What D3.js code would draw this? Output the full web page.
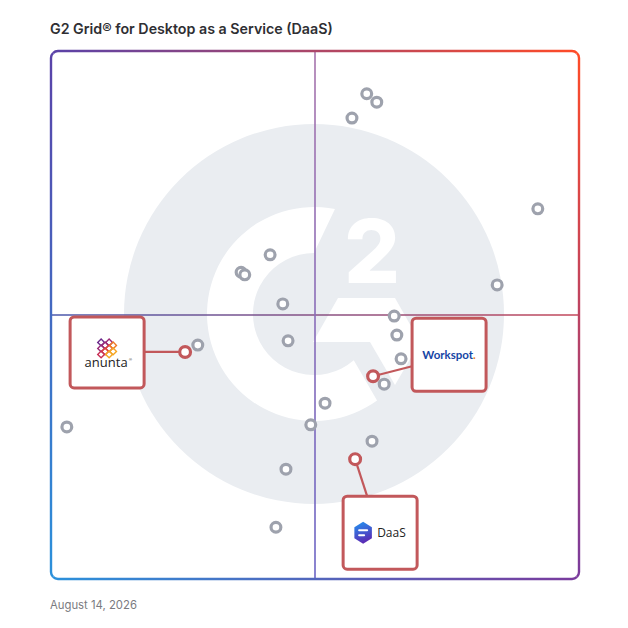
<!DOCTYPE html>
<html><head><meta charset="utf-8">
<script src="https://cdn.jsdelivr.net/npm/d3@7"></script>
<style>html,body{margin:0;padding:0;background:#fff;} svg{display:block;}</style>
</head><body>
<script>
// ---------------- DATA ----------------
const chartTitle = "G2 Grid® for Desktop as a Service (DaaS)";
const dateLabel = "August 14, 2026";
// Other products: Satisfaction (x, 0-100) and Market Presence (y, 0-100)
const otherSatisfaction = [59.8, 61.7, 57.0, 92.2, 41.5, 36.0, 36.7, 84.5, 43.9, 65.0, 65.5, 66.3, 63.1, 44.9, 27.8, 51.9, 49.2, 60.8, 44.5, 3.0, 42.6];
const otherPresence     = [91.9, 90.3, 87.3, 70.1, 61.4, 58.1, 57.6, 55.7, 52.1, 49.8, 46.2, 41.7, 36.9, 45.1, 44.3, 33.3, 29.2, 26.1, 20.8, 28.8, 9.8];
// Featured products
const featuredNames        = ["anunta", "Workspot", "DaaS"];
const featuredSatisfaction = [25.4, 61.0, 57.6];
const featuredPresence     = [43.0, 38.4, 22.7];

// ---------------- LAYOUT ----------------
const W = 628, H = 628;
const frame = {x0: 51, y0: 51, x1: 579, y1: 579, r: 7};
const svg = d3.select("body").append("svg").attr("width", W).attr("height", H);
const defs = svg.append("defs");

const x = d3.scaleLinear().domain([0, 100]).range([frame.x0, frame.x1]);
const y = d3.scaleLinear().domain([0, 100]).range([frame.y1, frame.y0]);

// Title
const t = svg.append("text").text(chartTitle)
  .attr("x", 50).attr("y", 34)
  .attr("font-family", "Inter, 'Open Sans', sans-serif")
  .attr("font-weight", 600).attr("font-size", 14).attr("fill", "#2f2f33");
const tl = t.node().getComputedTextLength();
t.attr("font-size", 14 * 283 / tl);

// Date
const dt = svg.append("text").text(dateLabel)
  .attr("x", 50).attr("y", 609)
  .attr("font-family", "Inter, 'Open Sans', sans-serif")
  .attr("font-size", 11.5).attr("fill", "#7a7a80");
const dl = dt.node().getComputedTextLength();
dt.attr("font-size", 11.5 * 87 / dl);

// ---------- Watermark (G2 logo) ----------
const cx = 314, cy = 314;
const wm = svg.append("g").attr("transform", `translate(${cx},${cy})`);
wm.append("circle").attr("r", 190).attr("fill", "#eaedf1");
const R = 107, r = 61;
const pt = (rad, deg) => [rad * Math.cos(deg * Math.PI / 180), rad * Math.sin(deg * Math.PI / 180)];
const oT = pt(R, -78.7), oB = pt(R, 53.9), iB = pt(r, 49.3), iT = pt(r, -90);
wm.append("path").attr("fill", "#fff")
  .attr("d", `M${oT} A${R},${R} 0 1 0 ${oB} L${iB} A${r},${r} 0 1 1 ${iT} Z`);
wm.append("path").attr("fill", "#fff")
  .attr("d", "M24,-16 L81,-16 L106,28 L81,71 L56,28 L-1,28 Z");
wm.append("text").text("2").attr("x", 58).attr("y", -31)
  .attr("text-anchor", "middle")
  .attr("font-family", "Inter, 'Open Sans', sans-serif")
  .attr("font-weight", 800).attr("font-size", 88).attr("fill", "#fff");

// ---------- Quadrant lines ----------
const gh = defs.append("linearGradient").attr("id", "gh").attr("gradientUnits", "userSpaceOnUse")
  .attr("x1", frame.x0).attr("x2", frame.x1).attr("y1", 0).attr("y2", 0);
gh.append("stop").attr("offset", 0).attr("stop-color", "#4a59ad");
gh.append("stop").attr("offset", 1).attr("stop-color", "#c4485a");
const gv = defs.append("linearGradient").attr("id", "gv").attr("gradientUnits", "userSpaceOnUse")
  .attr("x1", 0).attr("x2", 0).attr("y1", frame.y0).attr("y2", frame.y1);
gv.append("stop").attr("offset", 0).attr("stop-color", "#a774ac");
gv.append("stop").attr("offset", 1).attr("stop-color", "#6b64c4");
svg.append("line").attr("x1", x(0)).attr("x2", x(100)).attr("y1", y(50)).attr("y2", y(50))
  .attr("stroke", "url(#gh)").attr("stroke-width", 1.6);
svg.append("line").attr("x1", x(50)).attr("x2", x(50)).attr("y1", y(100)).attr("y2", y(0))
  .attr("stroke", "url(#gv)").attr("stroke-width", 1.6);

// ---------- Frame (4 gradient sides) ----------
const TL = "#5a42a8", TR = "#ff4b27", BL = "#2b91db", BR = "#7a3b9d";
function grad(id, x1, y1, x2, y2, c1, c2) {
  const g = defs.append("linearGradient").attr("id", id).attr("gradientUnits", "userSpaceOnUse")
    .attr("x1", x1).attr("y1", y1).attr("x2", x2).attr("y2", y2);
  g.append("stop").attr("offset", 0).attr("stop-color", c1);
  g.append("stop").attr("offset", 1).attr("stop-color", c2);
}
const {x0, y0, x1, y1} = frame, fr = frame.r;
grad("gTop", x0, 0, x1, 0, TL, TR);
grad("gBot", x0, 0, x1, 0, BL, BR);
grad("gLeft", 0, y0, 0, y1, TL, BL);
grad("gRight", 0, y0, 0, y1, TR, BR);
const k = fr * (1 - Math.SQRT1_2);
const sides = [
  {id: "gTop", d: `M${x0 + k},${y0 + k} A${fr},${fr} 0 0 1 ${x0 + fr},${y0} L${x1 - fr},${y0} A${fr},${fr} 0 0 1 ${x1 - k},${y0 + k}`},
  {id: "gRight", d: `M${x1 - k},${y0 + k} A${fr},${fr} 0 0 1 ${x1},${y0 + fr} L${x1},${y1 - fr} A${fr},${fr} 0 0 1 ${x1 - k},${y1 - k}`},
  {id: "gBot", d: `M${x1 - k},${y1 - k} A${fr},${fr} 0 0 1 ${x1 - fr},${y1} L${x0 + fr},${y1} A${fr},${fr} 0 0 1 ${x0 + k},${y1 - k}`},
  {id: "gLeft", d: `M${x0 + k},${y1 - k} A${fr},${fr} 0 0 1 ${x0},${y1 - fr} L${x0},${y0 + fr} A${fr},${fr} 0 0 1 ${x0 + k},${y0 + k}`}
];
svg.selectAll("path.side").data(sides).join("path").attr("class", "side")
  .attr("d", d => d.d).attr("fill", "none").attr("stroke", d => `url(#${d.id})`).attr("stroke-width", 2.4);

// ---------- Other products ----------
const others = otherSatisfaction.map((s, i) => ({s, p: otherPresence[i]}));
svg.append("g").selectAll("circle").data(others).join("circle")
  .attr("cx", d => x(d.s)).attr("cy", d => y(d.p)).attr("r", 4.9)
  .attr("fill", "#fff").attr("stroke", "#9ea2ad").attr("stroke-width", 3.2);

// ---------- Featured products with label boxes ----------
const RED = "#c2585b";
const featured = featuredNames.map((n, i) => ({name: n, s: featuredSatisfaction[i], p: featuredPresence[i]}));
// box placement relative to point: [dx of box left, dy of box top, w, h, anchor dx, anchor dy]
const boxLayout = {
  anunta:   {bx: -115, by: -35, w: 74, h: 71, ax: -41, ay: 0},
  Workspot: {bx: 39,   by: -58, w: 74, h: 73, ax: 39,  ay: -10},
  DaaS:     {bx: -12,  by: 37,  w: 74, h: 73, ax: 12,  ay: 37}
};
const fg = svg.append("g");
featured.forEach(d => {
  const px = x(d.s), py = y(d.p), L = boxLayout[d.name];
  fg.append("line").attr("x1", px).attr("y1", py).attr("x2", px + L.ax).attr("y2", py + L.ay)
    .attr("stroke", RED).attr("stroke-width", 2.2);
  fg.append("rect").attr("x", px + L.bx).attr("y", py + L.by).attr("width", L.w).attr("height", L.h)
    .attr("rx", 4).attr("fill", "#fff").attr("stroke", RED).attr("stroke-width", 3);
  const bcx = px + L.bx + L.w / 2, bcy = py + L.by + L.h / 2;
  const lg = fg.append("g").attr("transform", `translate(${bcx},${bcy})`);
  if (d.name === "anunta") {
    const cols = ["#6b2a8c", "#9a2a78", "#c92f55", "#e0463a", "#ef7a26", "#f5a623"];
    const pos = [[-4, -7, 0], [0, -4, 1], [4, -7, 1], [-4, -1, 1], [0, 2, 3], [4, -1, 3], [-4, 5, 2], [8, -4, 4], [4, 5, 5], [8, 2, 5]];
    pos.forEach(([ox, oy, c]) => {
      lg.append("rect").attr("x", -2.4).attr("y", -2.4).attr("width", 4.8).attr("height", 4.8)
        .attr("transform", `translate(${ox - 2},${oy - 3}) rotate(45)`)
        .attr("fill", "none").attr("stroke", cols[c]).attr("stroke-width", 1.4);
    });
    lg.append("text").text("anunta").attr("x", -1).attr("y", 15).attr("text-anchor", "middle")
      .attr("font-family", "'Open Sans', sans-serif").attr("font-size", 13).attr("fill", "#222");
    lg.append("text").text("®").attr("x", 22).attr("y", 9).attr("font-size", 4).attr("fill", "#222")
      .attr("font-family", "sans-serif");
  } else if (d.name === "Workspot") {
    const tx = lg.append("text").attr("x", 0).attr("y", 0).attr("dy", "0.35em").attr("text-anchor", "middle")
      .attr("font-family", "Lato, 'Open Sans', sans-serif").attr("font-weight", 700).attr("font-size", 11.5);
    tx.append("tspan").text("Workspot").attr("fill", "#1646a5");
    tx.append("tspan").text(".").attr("fill", "#f07a2a");
  } else {
    const hg = defs.append("linearGradient").attr("id", "hexg").attr("x1", 0).attr("y1", 0).attr("x2", 0.3).attr("y2", 1);
    hg.append("stop").attr("offset", 0).attr("stop-color", "#1f96f2");
    hg.append("stop").attr("offset", 1).attr("stop-color", "#5a2db6");
    const hx = -17, hr = 11;
    const hex = d3.range(6).map(i => { const a = Math.PI / 3 * i - Math.PI / 2; return [hx + hr * Math.cos(a) * 0.92, hr * Math.sin(a)]; });
    lg.append("path").attr("d", "M" + hex.join("L") + "Z").attr("fill", "url(#hexg)");
    lg.append("rect").attr("x", hx - 5).attr("y", -3.5).attr("width", 10).attr("height", 2).attr("rx", 1).attr("fill", "#fff");
    lg.append("rect").attr("x", hx - 5).attr("y", 1.5).attr("width", 7).attr("height", 2).attr("rx", 1).attr("fill", "#fff");
    lg.append("text").text("DaaS").attr("x", -3).attr("y", 0).attr("dy", "0.36em")
      .attr("font-family", "'Open Sans', sans-serif").attr("font-size", 12).attr("fill", "#222");
  }
});
fg.selectAll("circle.f").data(featured).join("circle").attr("class", "f")
  .attr("cx", d => x(d.s)).attr("cy", d => y(d.p)).attr("r", 5.4)
  .attr("fill", "#fff").attr("stroke", RED).attr("stroke-width", 3.2);
</script>
</body></html>
